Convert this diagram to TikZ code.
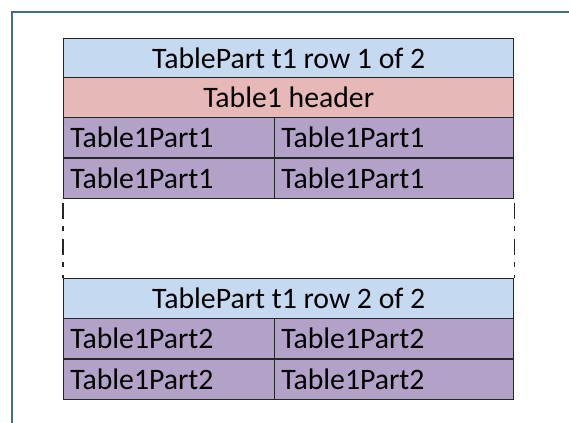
\documentclass[tikz,border=0pt]{standalone}
\usepackage{fontspec}
\newfontfamily\tablefont{Carlito}
\definecolor{rowblue}{HTML}{C5D9F1}
\definecolor{headpink}{HTML}{E6B9B8}
\definecolor{partviolet}{HTML}{B3A2C7}
\definecolor{framecol}{HTML}{436F7F}
\tikzset{
    cell/.style={draw=black!85,line width=1.1pt,inner ysep=0pt,inner xsep=0pt,minimum height=30pt,anchor=north west,font=\tablefont\fontsize{22.3}{26}\selectfont},
    wide/.style={cell,minimum width=337.5pt},
    leftcell/.style={cell,fill=partviolet,inner xsep=5pt,text width=148.25pt,align=left},
    rightcell/.style={cell,fill=partviolet,inner xsep=5pt,text width=169.25pt,align=left},
    gapline/.style={draw=black!85,line width=1.1pt,dash pattern=on 12pt off 5pt on 4pt off 6pt,dash phase=24pt}
}
\begin{document}
\begin{tikzpicture}[x=0.75pt,y=-0.75pt]
        \useasboundingbox (0,0) rectangle (569,423);
        \draw[framecol,line width=1.5pt] (12,423) -- (12,12) -- (569,12);

        \node[wide,fill=rowblue]  (row1) at (63,38)  {TablePart t1 row 1 of 2};
        \node[wide,fill=headpink] (head) at (63,77)  {Table1 header};
        \node[leftcell]  (pa1) at (63,117)  {Table1Part1};
        \node[rightcell] (pb1) at (274,117) {Table1Part1};
        \node[leftcell]  (pa2) at (63,158)  {Table1Part1};
        \node[rightcell] (pb2) at (274,158) {Table1Part1};

        \node[wide,fill=rowblue]  (row2) at (63,278) {TablePart t1 row 2 of 2};
        \node[leftcell]  (qa1) at (63,318)  {Table1Part2};
        \node[rightcell] (qb1) at (274,318) {Table1Part2};
        \node[leftcell]  (qa2) at (63,359)  {Table1Part2};
        \node[rightcell] (qb2) at (274,359) {Table1Part2};

        \path [gapline] (pa2.south west) edge (row2.north west);
        \path [gapline] (pb2.south east) edge (row2.north east);
    \end{tikzpicture}
\end{document}
